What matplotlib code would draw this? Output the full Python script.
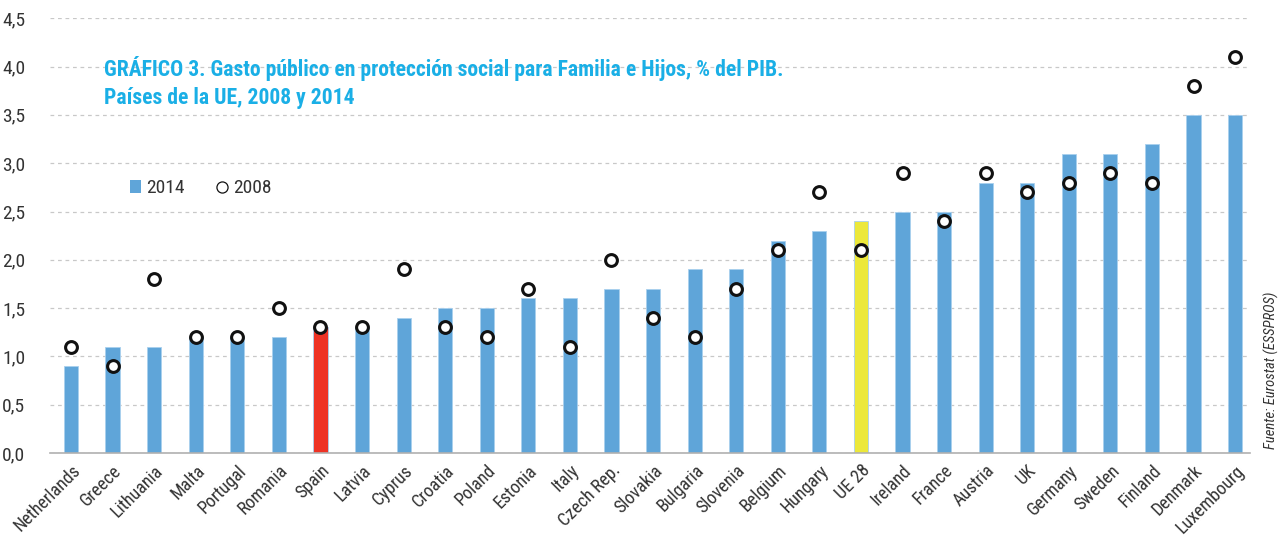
import matplotlib
matplotlib.use("Agg")
import matplotlib.pyplot as plt
from matplotlib import font_manager
from matplotlib.ticker import FuncFormatter
from matplotlib.lines import Line2D
from matplotlib.patches import Patch

# ============================================================
# DATA
# ============================================================

countries = [
    "Netherlands", "Greece", "Lithuania", "Malta", "Portugal", "Romania",
    "Spain", "Latvia", "Cyprus", "Croatia", "Poland", "Estonia", "Italy",
    "Czech Rep.", "Slovakia", "Bulgaria", "Slovenia", "Belgium", "Hungary",
    "UE 28", "Ireland", "France", "Austria", "UK", "Germany", "Sweden",
    "Finland", "Denmark", "Luxembourg",
]
gasto_2014 = [
    0.9, 1.1, 1.1, 1.2, 1.2, 1.2, 1.3, 1.3, 1.4, 1.5, 1.5, 1.6, 1.6,
    1.7, 1.7, 1.9, 1.9, 2.2, 2.3, 2.4, 2.5, 2.5, 2.8, 2.8, 3.1, 3.1,
    3.2, 3.5, 3.5,
]
gasto_2008 = [
    1.1, 0.9, 1.8, 1.2, 1.2, 1.5, 1.3, 1.3, 1.9, 1.3, 1.2, 1.7, 1.1,
    2.0, 1.4, 1.2, 1.7, 2.1, 2.7, 2.1, 2.9, 2.4, 2.9, 2.7, 2.8, 2.9,
    2.8, 3.8, 4.1,
]
y_ticks = [0.0, 0.5, 1.0, 1.5, 2.0, 2.5, 3.0, 3.5, 4.0, 4.5]

# ============================================================
# STYLE
# ============================================================

# pick a narrow face if one is around, otherwise condensed DejaVu
names = {f.name for f in font_manager.fontManager.ttflist}
narrow = [n for n in ["Liberation Sans Narrow", "Roboto Condensed", "Open Sans Condensed",
                      "DejaVu Sans Condensed"] if n in names]
plt.rcParams["font.family"] = narrow + ["DejaVu Sans"]
plt.rcParams["font.stretch"] = "condensed"

BLUE = "#5FA5D9"
RED = "#EE3224"
YELLOW = "#ECE83A"
CYAN = "#1AAFE6"
TEXT = "#333333"

bar_colors = []
for c in countries:
    if c == "Spain":
        bar_colors.append(RED)
    elif c == "UE 28":
        bar_colors.append(YELLOW)
    else:
        bar_colors.append(BLUE)

# ============================================================
# PLOT
# ============================================================

fig = plt.figure(figsize=(12.87, 5.35), dpi=100)
ax = fig.add_axes([0.039, 0.153, 0.932, 0.813])

x = list(range(len(countries)))
ax.bar(x, gasto_2014, width=0.34, color=bar_colors, edgecolor="#A9D0EE",
       linewidth=0.6, zorder=2)
ax.plot(x, gasto_2008, linestyle="none", marker="o", markersize=8.5,
        markerfacecolor="white", markeredgecolor="#111111",
        markeredgewidth=2.2, zorder=3)

ax.set_xlim(-0.5, 28.35)
ax.set_ylim(0, 4.5)
ax.set_yticks(y_ticks)
ax.yaxis.set_major_formatter(FuncFormatter(lambda v, _: f"{v:.1f}".replace(".", ",")))
ax.set_xticks(x)
ax.set_xticklabels(countries, rotation=45, ha="right", rotation_mode="anchor")

ax.tick_params(axis="both", length=0, labelcolor=TEXT)
ax.tick_params(axis="x", pad=6, labelsize=13)
ax.tick_params(axis="y", pad=18, labelsize=14)

ax.grid(axis="y", color="#C8C8C8", linestyle=(0, (3, 3)), linewidth=0.9, zorder=0)
ax.set_axisbelow(True)
for side in ["top", "right", "left"]:
    ax.spines[side].set_visible(False)
ax.spines["bottom"].set_color("#B0B0B0")
ax.spines["bottom"].set_linewidth(1.2)
ax.spines["bottom"].set_zorder(4)

# title inside the plot area
ax.text(0.045, 0.912,
        "GRÁFICO 3. Gasto público en protección social para Familia e Hijos, % del PIB.\n"
        "Países de la UE, 2008 y 2014",
        transform=ax.transAxes, color=CYAN, fontsize=15.6, fontweight="bold",
        ha="left", va="top", linespacing=1.3)

handles = [
    Patch(facecolor=BLUE, edgecolor="none"),
    Line2D([], [], linestyle="none", marker="o", markersize=8,
           markerfacecolor="white", markeredgecolor="#111111", markeredgewidth=0.9),
]
ax.legend(handles, ["2014", "2008"], loc="upper left", bbox_to_anchor=(0.052, 0.67),
          ncol=2, frameon=False, fontsize=14, handlelength=0.55, handleheight=0.6,
          handletextpad=0.3, columnspacing=1.6, labelcolor=TEXT)

fig.text(0.988, 0.16, "Fuente: Eurostat (ESSPROS)", rotation=90, fontsize=10.5,
         style="italic", color=TEXT, ha="center", va="bottom")

fig.savefig("out.png", dpi=100)
